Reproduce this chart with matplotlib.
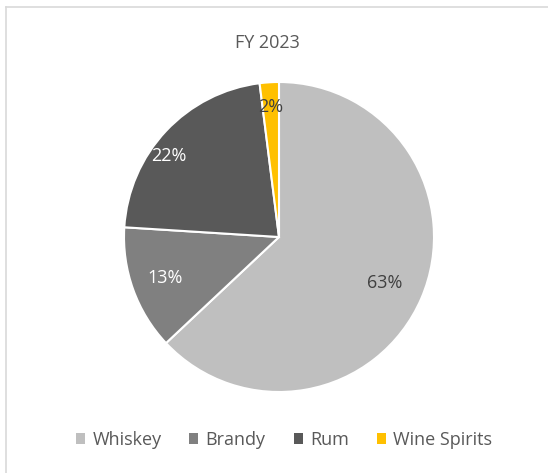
import matplotlib.pyplot as plt
from matplotlib.patches import Patch
import numpy as np

plt.rcParams['font.family'] = ['Open Sans', 'DejaVu Sans']

labels = ['Whiskey', 'Brandy', 'Rum', 'Wine Spirits']
shares = [63, 13, 22, 2]
colors = ['#BFBFBF', '#808080', '#595959', '#FFC000']
pct_colors = ['#404040', 'white', 'white', '#404040']
# label placement tweaks (distance from centre, angle shift in degrees)
lab_dist = [0.74, 0.78, 0.88, 0.84]
lab_shift = [0, 0, 7, 0]

fig = plt.figure(figsize=(5.48, 4.73), dpi=100)
W, H = 548, 473

# light border (top and left only, as in the screenshot)
fig.add_artist(plt.Line2D([6 / W, 1], [1 - 7 / H, 1 - 7 / H], color='#D9D9D9', lw=1.2))
fig.add_artist(plt.Line2D([6 / W, 6 / W], [0, 1 - 7 / H], color='#D9D9D9', lw=1.2))

cx, cy, r = 279, 237, 155
ax = fig.add_axes([(cx - r) / W, 1 - (cy + r) / H, 2 * r / W, 2 * r / H])
wedges, _ = ax.pie(shares, colors=colors, startangle=90, counterclock=False,
                   wedgeprops=dict(edgecolor='white', linewidth=1.5))
ax.set_aspect('auto')
ax.set_xlim(-1, 1)
ax.set_ylim(-1, 1)

for w, val, c, d, s in zip(wedges, shares, pct_colors, lab_dist, lab_shift):
    ang = np.deg2rad((w.theta1 + w.theta2) / 2 + s)
    ax.text(d * np.cos(ang), d * np.sin(ang), f'{val}%', ha='center', va='center',
            fontsize=13, color=c)

fig.text(267 / W, 1 - 43 / H, 'FY 2023', ha='center', va='center', fontsize=13, color='#595959')

handles = [Patch(facecolor=c, edgecolor='none') for c in colors]
fig.legend(handles, labels, loc='center', bbox_to_anchor=(284 / W, 1 - 440 / H), ncol=4,
           frameon=False, fontsize=13, handlelength=0.5, handleheight=0.5,
           handletextpad=0.4, columnspacing=1.55, labelcolor='#595959')

fig.savefig('out.png', dpi=100)
